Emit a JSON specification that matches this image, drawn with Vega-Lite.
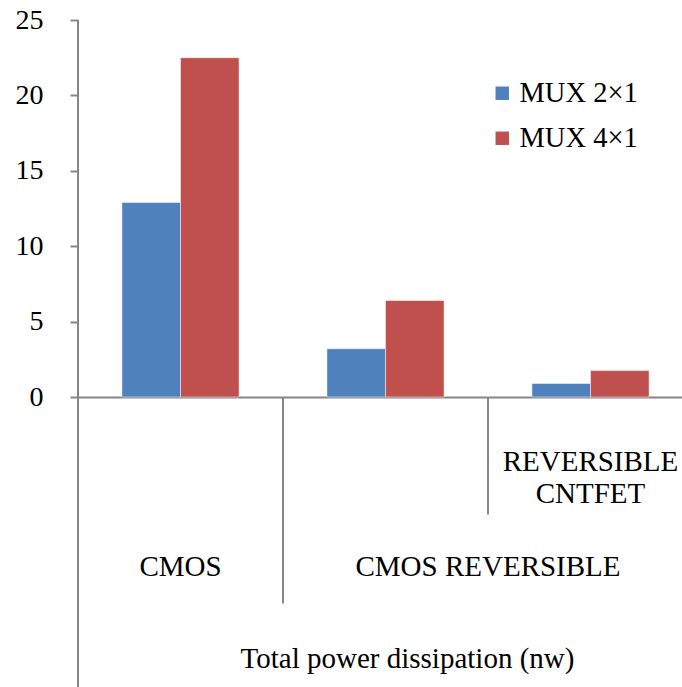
{
  "$schema": "https://vega.github.io/schema/vega-lite/v6.json",
  "autosize": "none",
  "width": 604,
  "height": 377,
  "padding": {"left": 78, "top": 20, "right": 0, "bottom": 290},
  "background": "white",
  "config": {
    "view": {"stroke": null},
    "font": "Liberation Serif"
  },
  "data": {
    "values": [
      {"cat": "CMOS", "series": "MUX 2×1", "value": 12.9},
      {"cat": "CMOS", "series": "MUX 4×1", "value": 22.5},
      {"cat": "CMOS REVERSIBLE", "series": "MUX 2×1", "value": 3.2},
      {"cat": "CMOS REVERSIBLE", "series": "MUX 4×1", "value": 6.4},
      {"cat": "REVERSIBLE CNTFET", "series": "MUX 2×1", "value": 0.9},
      {"cat": "REVERSIBLE CNTFET", "series": "MUX 4×1", "value": 1.75}
    ]
  },
  "layer": [
    {
      "mark": {"type": "bar", "stroke": "white", "strokeWidth": 0.5},
      "encoding": {
        "x": {
          "field": "cat", "type": "nominal",
          "scale": {"domain": ["CMOS", "CMOS REVERSIBLE", "REVERSIBLE CNTFET"], "range": [0, 615], "paddingInner": 0, "paddingOuter": 0},
          "axis": {"labels": false, "ticks": false, "title": null, "domainColor": "#868686", "domainWidth": 2}
        },
        "xOffset": {"field": "series", "type": "nominal", "scale": {"paddingInner": 0, "paddingOuter": 0.75}},
        "y": {
          "field": "value", "type": "quantitative",
          "scale": {"domain": [0, 25], "nice": false},
          "axis": {"values": [0, 5, 10, 15, 20, 25], "grid": false, "domain": false, "tickColor": "#868686", "tickWidth": 2, "tickSize": 8, "labelFont": "Liberation Serif", "labelFontSize": 28, "labelColor": "black", "labelPadding": 27, "title": null}
        },
        "color": {
          "field": "series", "type": "nominal",
          "scale": {"domain": ["MUX 2×1", "MUX 4×1"], "range": ["#4F81BD", "#C0504D"]},
          "legend": {"orient": "none", "legendX": 410, "legendY": 59, "title": null, "symbolType": "square", "symbolSize": 180, "symbolStrokeWidth": 0, "labelFont": "Liberation Serif", "labelFontSize": 28.5, "labelColor": "black", "labelOffset": 3, "rowPadding": 16}
        }
      }
    },
    {
      "data": {"values": [{}]},
      "mark": {"type": "rule", "color": "#868686", "strokeWidth": 2},
      "encoding": {
        "x": {"datum": "CMOS", "type": "nominal", "bandPosition": 0},
        "y": {"datum": 25, "type": "quantitative"},
        "y2": {"datum": -19.5}
      }
    },
    {
      "data": {"values": [{}]},
      "mark": {"type": "rule", "color": "#868686", "strokeWidth": 2},
      "encoding": {
        "x": {"datum": "CMOS REVERSIBLE", "type": "nominal", "bandPosition": 0},
        "y": {"datum": 0, "type": "quantitative"},
        "y2": {"datum": -13.7}
      }
    },
    {
      "data": {"values": [{}]},
      "mark": {"type": "rule", "color": "#868686", "strokeWidth": 2},
      "encoding": {
        "x": {"datum": "REVERSIBLE CNTFET", "type": "nominal", "bandPosition": 0},
        "y": {"datum": 0, "type": "quantitative"},
        "y2": {"datum": -7.8}
      }
    },
    {
      "data": {"values": [{"label": "CMOS"}]},
      "mark": {"type": "text", "font": "Liberation Serif", "fontSize": 29, "color": "black", "baseline": "middle", "align": "center"},
      "encoding": {
        "x": {"datum": "CMOS", "type": "nominal"},
        "y": {"datum": -11.3, "type": "quantitative"},
        "text": {"field": "label"}
      }
    },
    {
      "data": {"values": [{"label": "CMOS REVERSIBLE"}]},
      "mark": {"type": "text", "font": "Liberation Serif", "fontSize": 29, "color": "black", "baseline": "middle", "align": "center"},
      "encoding": {
        "x": {"datum": "REVERSIBLE CNTFET", "type": "nominal", "bandPosition": 0},
        "y": {"datum": -11.3, "type": "quantitative"},
        "text": {"field": "label"}
      }
    },
    {
      "data": {"values": [{"label": ["REVERSIBLE", "CNTFET"]}]},
      "mark": {"type": "text", "font": "Liberation Serif", "fontSize": 29, "color": "black", "baseline": "middle", "align": "center", "lineHeight": 32},
      "encoding": {
        "x": {"datum": "REVERSIBLE CNTFET", "type": "nominal"},
        "y": {"datum": -4.3, "type": "quantitative"},
        "text": {"field": "label"}
      }
    },
    {
      "data": {"values": [{"label": "Total power dissipation (nw)"}]},
      "mark": {"type": "text", "font": "Liberation Serif", "fontSize": 29, "color": "black", "baseline": "middle", "align": "center", "dx": 22},
      "encoding": {
        "x": {"datum": "CMOS REVERSIBLE", "type": "nominal"},
        "y": {"datum": -17.4, "type": "quantitative"},
        "text": {"field": "label"}
      }
    }
  ]
}
